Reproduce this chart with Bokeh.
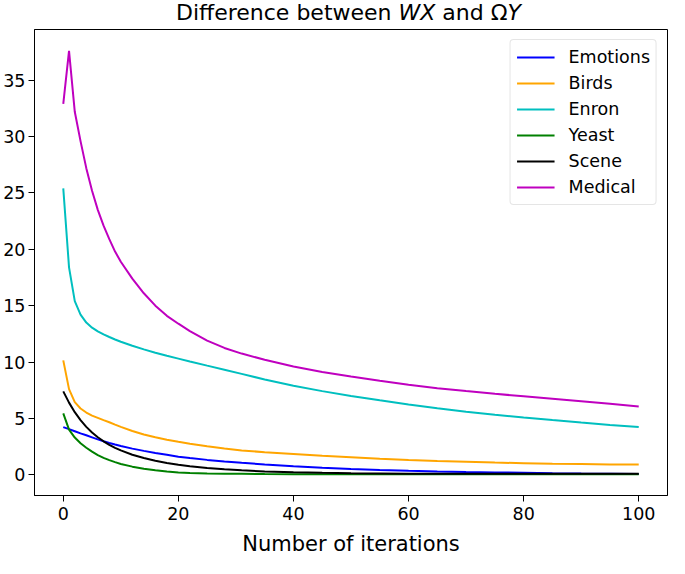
from bokeh.plotting import figure
from bokeh.models import Range1d, FixedTicker, Div
from bokeh.layouts import column
from bokeh.embed import file_html
from bokeh.resources import INLINE

# ---- data ----
iters = [0, 1, 2, 3, 4, 5, 6, 7, 8, 9, 10, 12, 14, 16, 18, 20, 22, 25, 28, 31, 35,
         40, 45, 50, 55, 60, 65, 70, 75, 80, 85, 90, 95, 100]

emotions = [4.23, 4.05, 3.86, 3.67, 3.50, 3.32, 3.14, 2.97, 2.82, 2.68, 2.55, 2.32, 2.12, 1.94, 1.77,
            1.60, 1.48, 1.32, 1.18, 1.06, 0.92, 0.76, 0.63, 0.52, 0.43, 0.36, 0.30, 0.25, 0.21,
            0.18, 0.14, 0.11, 0.09, 0.07]
birds = [10.15, 7.6, 6.45, 5.88, 5.52, 5.25, 5.05, 4.85, 4.66, 4.45, 4.25, 3.88, 3.57, 3.32, 3.10,
         2.92, 2.75, 2.53, 2.33, 2.16, 2.0, 1.84, 1.68, 1.55, 1.42, 1.30, 1.22, 1.15, 1.08,
         1.03, 0.98, 0.95, 0.92, 0.90]
enron = [25.4, 18.4, 15.4, 14.2, 13.5, 13.05, 12.72, 12.45, 12.22, 12.0, 11.8, 11.45, 11.12, 10.82, 10.55,
         10.3, 10.05, 9.68, 9.32, 8.95, 8.45, 7.9, 7.42, 6.98, 6.6, 6.23, 5.9, 5.6, 5.33,
         5.08, 4.85, 4.63, 4.42, 4.23]
yeast = [5.45, 4.0, 3.3, 2.8, 2.4, 2.05, 1.75, 1.5, 1.3, 1.12, 0.96, 0.72, 0.53, 0.39, 0.29,
         0.21, 0.16, 0.12, 0.09, 0.08, 0.06, 0.05, 0.05, 0.05, 0.05, 0.05, 0.05, 0.05, 0.05,
         0.05, 0.05, 0.05, 0.05, 0.05]
scene = [7.4, 6.4, 5.55, 4.85, 4.25, 3.75, 3.33, 2.97, 2.66, 2.39, 2.16, 1.78, 1.48, 1.24, 1.05,
         0.89, 0.76, 0.6, 0.48, 0.39, 0.3, 0.22, 0.17, 0.14, 0.12, 0.1, 0.1, 0.09, 0.09,
         0.08, 0.08, 0.08, 0.08, 0.08]
medical = [32.9, 37.6, 32.2, 29.6, 27.2, 25.2, 23.5, 22.1, 20.9, 19.8, 18.9, 17.4, 16.1, 15.0, 14.1,
           13.4, 12.75, 11.9, 11.25, 10.75, 10.2, 9.6, 9.12, 8.72, 8.33, 7.98, 7.68, 7.42, 7.18,
           6.96, 6.74, 6.52, 6.3, 6.05]

series_names = ["Emotions", "Birds", "Enron", "Yeast", "Scene", "Medical"]
series_values = [emotions, birds, enron, yeast, scene, medical]
series_colors = ["#0000ff", "#ffa500", "#00bfbf", "#008000", "#000000", "#bf00bf"]

x_ticks = [0, 20, 40, 60, 80, 100]
y_ticks = [0, 5, 10, 15, 20, 25, 30, 35]
x_label = "Number of iterations"

FONT = "DejaVu Sans"
TICK_FS = "17.5px"
W = 669
TITLE_H = 26
FIG_H = 558 - TITLE_H
LEFT = 30
RIGHT = 2

p = figure(width=W, height=FIG_H,
           x_range=Range1d(-5, 105), y_range=Range1d(-1.84, 39.5),
           output_backend="svg", toolbar_location=None,
           min_border_left=LEFT, min_border_right=RIGHT, min_border_top=3, min_border_bottom=50)

p.xgrid.visible = False
p.ygrid.visible = False
p.outline_line_color = "black"
p.outline_line_alpha = 1.0
p.outline_line_width = 1
p.background_fill_color = "white"
p.border_fill_color = "white"

for ax in (p.xaxis[0], p.yaxis[0]):
    ax.axis_line_color = "black"
    ax.axis_line_width = 1
    ax.major_tick_line_color = "black"
    ax.major_tick_line_width = 1
    ax.major_tick_out = 6
    ax.major_tick_in = 0
    ax.minor_tick_line_color = None
    ax.major_label_text_font = FONT
    ax.major_label_text_font_size = TICK_FS
    ax.major_label_text_color = "black"

p.xaxis.ticker = FixedTicker(ticks=x_ticks)
p.yaxis.ticker = FixedTicker(ticks=y_ticks)
p.xaxis.major_label_standoff = 5
p.yaxis.major_label_standoff = 3
p.yaxis.axis_label_standoff = 0
p.xaxis.axis_label = x_label
p.xaxis.axis_label_text_font = FONT
p.xaxis.axis_label_text_font_size = "21px"
p.xaxis.axis_label_text_font_style = "normal"
p.xaxis.axis_label_text_color = "black"
p.xaxis.axis_label_standoff = 9

for name, vals, col in zip(series_names, series_values, series_colors):
    p.line(iters, vals, line_color=col, line_width=2, legend_label=name)

lg = p.legend[0]
lg.location = "top_right"
lg.margin = 10
lg.padding = 6
lg.spacing = 4
lg.label_height = 22
lg.glyph_height = 22
lg.glyph_width = 38
lg.label_standoff = 14
lg.label_text_font = FONT
lg.label_text_font_size = TICK_FS
lg.label_text_color = "black"
lg.border_line_color = "#cccccc"
lg.border_line_width = 1
lg.background_fill_alpha = 0.8
try:
    lg.border_radius = 4
except Exception:
    pass

title_html = (
    f'<div style="width:{W - LEFT - RIGHT}px; margin-left:{LEFT}px; text-align:center; '
    f'font-family:\'DejaVu Sans\'; font-size:22px; line-height:{TITLE_H}px; color:black; '
    f'white-space:nowrap;">Difference between <i>WX</i> and \u03a9<i>Y</i></div>'
)
title = Div(text=title_html, width=W, height=TITLE_H, margin=0)

layout = column(title, p, spacing=0)
open("out.html", "w").write(file_html(layout, INLINE))
